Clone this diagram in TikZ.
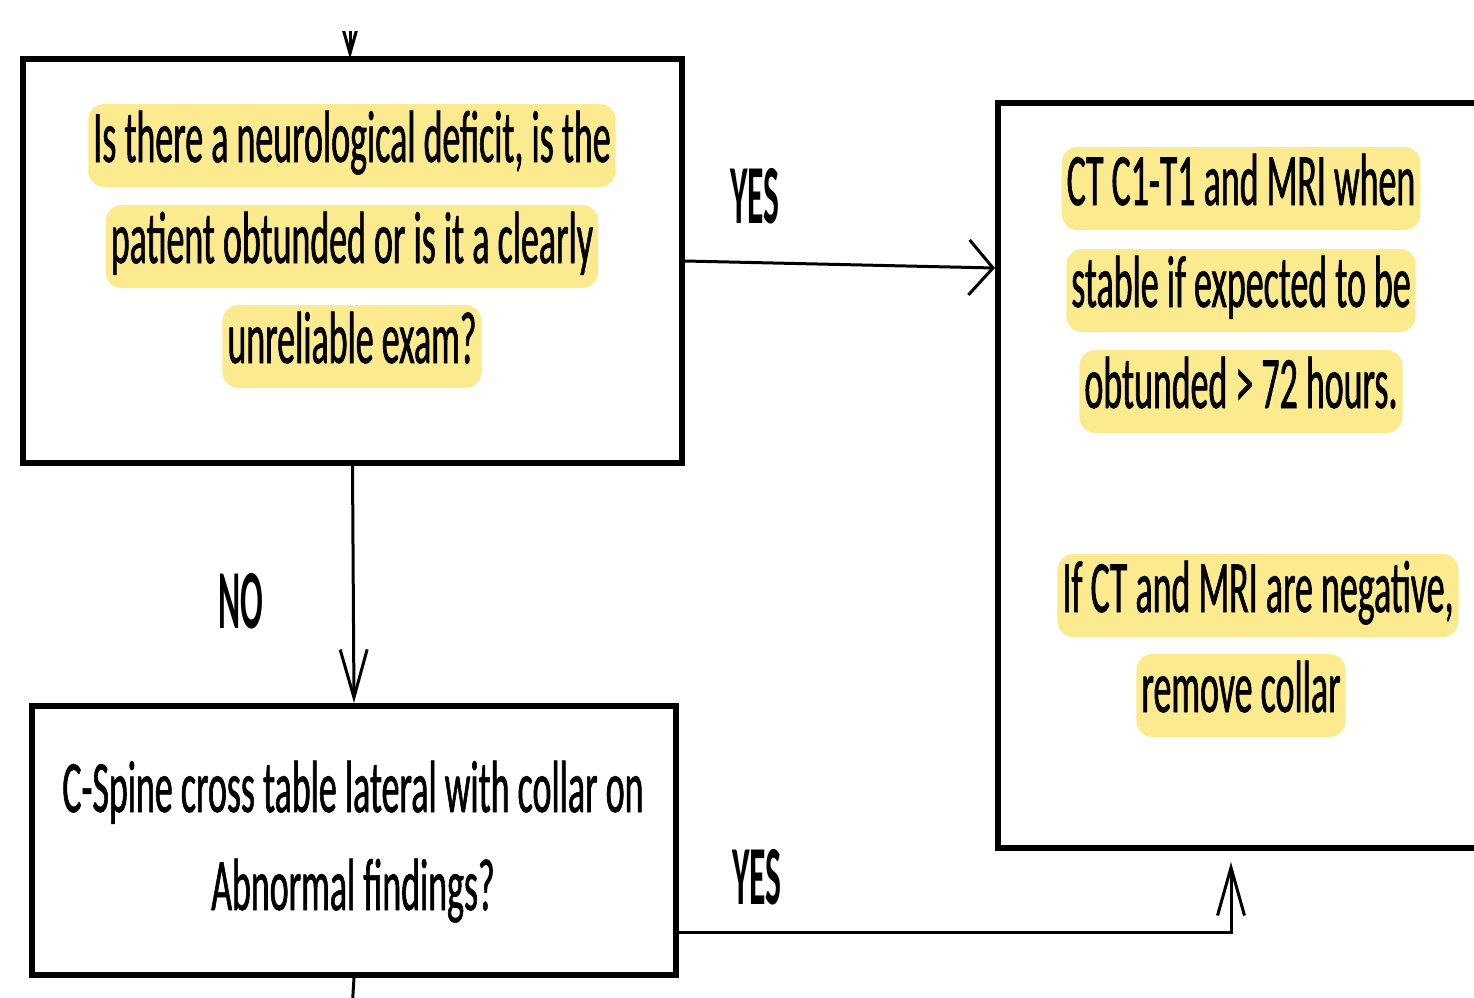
\documentclass[tikz,border=0pt]{standalone}
\usepackage{fontspec}
\usetikzlibrary{arrows.meta}
\newfontfamily\bodyf[FakeStretch=0.485,FakeBold=0.8]{Carlito}
\newfontfamily\labf[FakeStretch=0.4]{Carlito}
\definecolor{hlyellow}{RGB}{252,234,142}
\tikzset{
  boxnode/.style={draw=black, line width=6pt, inner sep=0pt},
  txt/.style={anchor=base, inner xsep=5pt, inner ysep=0pt, text height=58pt, text depth=25pt,
    font=\bodyf\fontsize{74}{74}\selectfont},
  hl/.style={txt, fill=hlyellow, rounded corners=16pt},
  lab/.style={font=\labf\bfseries\fontsize{84}{84}\selectfont, inner sep=0pt},
  conn/.style={line width=3pt, draw=black},
  tipA/.style={-{Straight Barb[length=48pt,width=27pt]}},
  tipB/.style={-{Straight Barb[length=24pt,width=55pt]}},
}
\begin{document}
\begin{tikzpicture}[x=1pt,y=-1pt]
\useasboundingbox (0,0) rectangle (1474,997);
\clip (0,0) rectangle (1474,997);

% boxes
\node[boxnode, minimum width=659pt, minimum height=404pt] (box1) at (352.5,261) {};
\node[boxnode, minimum width=644pt, minimum height=269pt] (box2) at (354,840.5) {};
\node[boxnode, minimum width=492pt, minimum height=745pt] (box3) at (1244,475.5) {};

% box 1 text
\node[hl] (q1) at (352,162) {Is there a neurological deficit, is the};
\node[hl] (q2) at (352,263) {patient obtunded or is it a clearly};
\node[hl] (q3) at (352,363) {unreliable exam?};

% box 2 text
\node[txt] (c1) at (353,812) {C-Spine cross table lateral with collar on};
\node[txt] (c2) at (353,910) {Abnormal findings?};

% box 3 text
\node[hl] (r1) at (1241,205) {CT C1-T1 and MRI when};
\node[hl] (r2) at (1241,307) {stable if expected to be};
\node[hl] (r3) at (1241,408) {obtunded > 72 hours.};
\node[hl] (r4) at (1258,612) {If CT and MRI are negative,};
\node[hl] (r5) at (1241,712) {remove collar};

% labels
\node[lab] (yes1) at (755,196) {YES};
\node[lab] (no1) at (241,601) {NO};
\node[lab] (yes2) at (757,877) {YES};

% connectors
\coordinate (topin) at (350,-20);
\coordinate (botout) at (352,1010);
\begin{scope}
  \clip (0,31) rectangle (1474,997);
  \draw[conn, tipA] (topin) -- (350,59);
\end{scope}
\draw[conn, tipA] (box1.south) -- (box2.north);
\draw[conn, tipB] (box1.east) -- ([yshift=-168pt]box3.north west);
\draw[conn, tipA] ([yshift=-92pt]box2.east) -| ([xshift=236pt,yshift=-11pt]box3.south west);
\draw[conn] (box2.south) -- (botout);
\end{tikzpicture}
\end{document}
